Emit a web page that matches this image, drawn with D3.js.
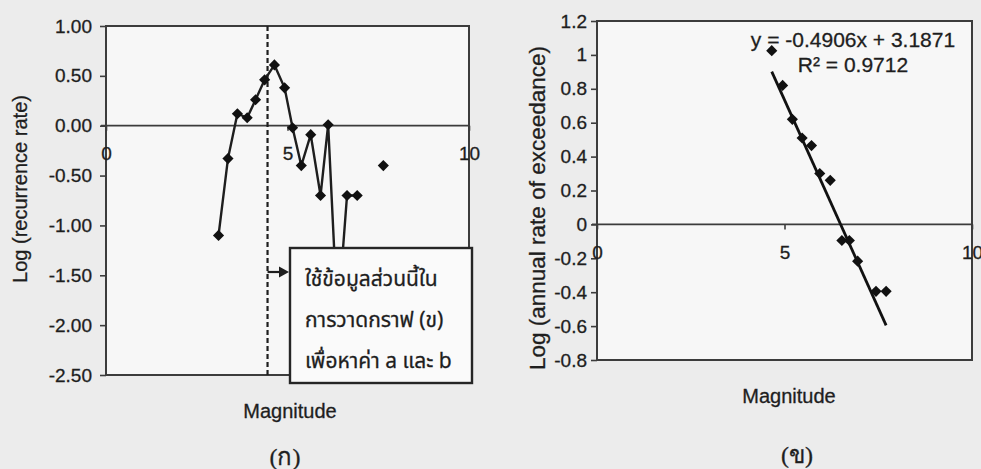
<!DOCTYPE html>
<html>
<head>
<meta charset="utf-8">
<script src="https://cdn.jsdelivr.net/npm/d3@7"></script>
<style>
  html, body { margin: 0; padding: 0; background: #ececec; }
  svg { display: block; }
  text { font-family: "Liberation Sans", Arial, sans-serif; fill: #1e1e1e; stroke: #1e1e1e; stroke-width: 0.3px; }
</style>
</head>
<body>
<svg id="chart" width="981" height="469"></svg>
<script>
// ---- (ก) recurrence rate per magnitude bin ----
const leftMag  = [3.10, 3.36, 3.62, 3.89, 4.12, 4.37, 4.64, 4.92, 5.14, 5.38, 5.64, 5.91, 6.12, 6.38, 6.64, 6.92, 7.16, 7.40, 7.64];
const leftRate = [-1.10, -0.33, 0.12, 0.08, 0.26, 0.46, 0.61, 0.38, -0.02, -0.40, -0.09, -0.70, 0.01, -1.95, -0.70, -0.70, null, null, -0.40];
const leftYTicks = [1.00, 0.50, 0.00, -0.50, -1.00, -1.50, -2.00, -2.50];
const leftXTicks = [0, 5, 10];
const cutoffMag = 4.45;   // start of the data used for the fit
const noteLines = ["ใช้ข้อมูลส่วนนี้ใน", "การวาดกราฟ (ข)", "เพื่อหาค่า a และ b"];

// ---- (ข) annual rate of exceedance ----
const rightMag  = [4.66, 4.95, 5.21, 5.47, 5.72, 5.94, 6.22, 6.53, 6.73, 6.95, 7.44, 7.71];
const rightRate = [1.025, 0.82, 0.62, 0.51, 0.465, 0.30, 0.26, -0.095, -0.095, -0.217, -0.395, -0.395];
const rightYTicks = [1.2, 1.0, 0.8, 0.6, 0.4, 0.2, 0.0, -0.2, -0.4, -0.6, -0.8];
const rightXTicks = [0, 5, 10];
const fitSlope = -0.4906;
const fitIntercept = 3.1871;
const fitR2 = 0.9712;

const svg = d3.select("#chart");
const ink = "#1e1e1e";
const frameInk = "#3c3c3c";

// plain hyphen for negatives, as in the spreadsheet output
const fmt = d3.formatLocale({ decimal: ".", thousands: ",", grouping: [3], currency: ["", ""], minus: "-" }).format;

// diamond marker (square rotated 45°), ~11px across
const diamond = d3.symbol().type(d3.symbolSquare).size(62);

function drawPanel(cfg) {
  const g = svg.append("g");
  const x = d3.scaleLinear().domain([0, 10]).range([cfg.x0, cfg.x1]);
  const y = d3.scaleLinear().domain(cfg.yDomain).range([cfg.y1, cfg.y0]);

  g.append("rect")
    .attr("x", cfg.x0).attr("y", cfg.y0)
    .attr("width", cfg.x1 - cfg.x0).attr("height", cfg.y1 - cfg.y0)
    .attr("fill", "#f7f7f7").attr("stroke", frameInk).attr("stroke-width", 2);

  // value axis
  const ya = g.append("g").attr("transform", `translate(${cfg.x0},0)`)
    .call(d3.axisLeft(y).tickValues(cfg.yTicks).tickFormat(cfg.yFormat)
      .tickSize(6).tickSizeOuter(0).tickPadding(cfg.yPad));
  ya.select(".domain").remove();
  ya.selectAll("line").attr("stroke", frameInk).attr("stroke-width", 1.6);
  ya.selectAll("text").attr("font-size", 19).attr("fill", ink)
    .style("font-family", '"Liberation Sans", Arial, sans-serif');

  // category axis along zero
  const xa = g.append("g").attr("transform", `translate(0,${y(0)})`)
    .call(d3.axisBottom(x).tickValues(cfg.xTicks).tickFormat(fmt("d"))
      .tickSize(5).tickSizeOuter(0).tickPadding(16));
  xa.select(".domain").attr("stroke", frameInk).attr("stroke-width", 1.8)
    .attr("d", `M${cfg.x0 - 5},0H${cfg.x1}`);
  xa.selectAll("line").attr("stroke", frameInk).attr("stroke-width", 1.6);
  xa.selectAll("text").attr("font-size", 19).attr("fill", ink)
    .style("font-family", '"Liberation Sans", Arial, sans-serif');

  g.append("text")
    .attr("x", cfg.magX).attr("y", cfg.magY)
    .attr("text-anchor", "middle").attr("font-size", 20)
    .text("Magnitude");

  g.append("text")
    .attr("transform", `translate(${cfg.titleX},${cfg.titleY}) rotate(-90)`)
    .attr("text-anchor", "middle").attr("font-size", cfg.titleSize)
    .text(cfg.title);

  g.append("text")
    .attr("x", cfg.capX).attr("y", cfg.capY)
    .attr("text-anchor", "middle").attr("font-size", 24)
    .style("font-family", '"Liberation Serif", "DejaVu Serif", serif')
    .text(cfg.caption);

  return { g, x, y };
}

// ---------- panel (ก) ----------
const L = drawPanel({
  x0: 106, x1: 469, y0: 26, y1: 375,
  yDomain: [-2.5, 1.0], yTicks: leftYTicks, yFormat: fmt(".2f"), yPad: 8,
  xTicks: leftXTicks,
  magX: 290, magY: 418,
  title: "Log (recurrence rate)", titleX: 27, titleY: 189, titleSize: 20,
  caption: "(ก)", capX: 285, capY: 465
});

// cutoff marker
L.g.append("line")
  .attr("x1", L.x(cutoffMag)).attr("x2", L.x(cutoffMag))
  .attr("y1", 26).attr("y2", 375)
  .attr("stroke", ink).attr("stroke-width", 2.2).attr("stroke-dasharray", "5,3");

const leftData = leftMag.map((m, i) => ({ m, v: leftRate[i] }));
L.g.append("path")
  .datum(leftData)
  .attr("fill", "none").attr("stroke", ink).attr("stroke-width", 2.4)
  .attr("d", d3.line().defined(d => d.v != null).x(d => L.x(d.m)).y(d => L.y(d.v)));
L.g.selectAll(".pt").data(leftData.filter(d => d.v != null)).enter()
  .append("path")
  .attr("transform", d => `translate(${L.x(d.m)},${L.y(d.v)}) rotate(45)`)
  .attr("d", diamond).attr("fill", "#111");

// note box with arrow from the cutoff line
const box = { x: 290, y: 248, w: 182, h: 135 };
L.g.append("rect")
  .attr("x", box.x).attr("y", box.y).attr("width", box.w).attr("height", box.h)
  .attr("fill", "#fafafa").attr("stroke", "#262626").attr("stroke-width", 2.4);
L.g.selectAll(".note").data(noteLines).enter().append("text")
  .attr("x", box.x + 15).attr("y", (d, i) => box.y + 38 + i * 41)
  .attr("font-size", 21)
  .style("font-family", '"Noto Sans Thai", "Noto Sans", "DejaVu Sans", sans-serif')
  .text(d => d);
const ay = 272;
L.g.append("line")
  .attr("x1", L.x(cutoffMag)).attr("x2", box.x - 6)
  .attr("y1", ay).attr("y2", ay)
  .attr("stroke", ink).attr("stroke-width", 2.2);
L.g.append("path")
  .attr("d", `M${box.x - 1},${ay}L${box.x - 11},${ay - 5.5}L${box.x - 11},${ay + 5.5}Z`)
  .attr("fill", ink);

// ---------- panel (ข) ----------
const R = drawPanel({
  x0: 597, x1: 972, y0: 21, y1: 360,
  yDomain: [-0.8, 1.2], yTicks: rightYTicks,
  yFormat: d => fmt(".1f")(d).replace(/\.0$/, ""), yPad: 4,
  xTicks: rightXTicks,
  magX: 789, magY: 403,
  title: "Log (annual rate of exceedance)", titleX: 545, titleY: 208, titleSize: 22.5,
  caption: "(ข)", capX: 797, capY: 463
});

// least-squares line over the data range
const mExt = d3.extent(rightMag);
R.g.append("line")
  .attr("x1", R.x(mExt[0])).attr("y1", R.y(fitSlope * mExt[0] + fitIntercept))
  .attr("x2", R.x(mExt[1])).attr("y2", R.y(fitSlope * mExt[1] + fitIntercept))
  .attr("stroke", "#111").attr("stroke-width", 2.8);

R.g.selectAll(".pt").data(rightMag.map((m, i) => ({ m, v: rightRate[i] }))).enter()
  .append("path")
  .attr("transform", d => `translate(${R.x(d.m)},${R.y(d.v)}) rotate(45)`)
  .attr("d", diamond).attr("fill", "#111");

const eq = R.g.append("g").attr("font-size", 21).attr("text-anchor", "middle");
eq.append("text").attr("x", 853).attr("y", 47)
  .text(`y = ${fmt(".4f")(fitSlope)}x + ${fmt(".4f")(fitIntercept)}`);
eq.append("text").attr("x", 853).attr("y", 72)
  .text(`R² = ${fmt(".4f")(fitR2)}`);
</script>
</body>
</html>
